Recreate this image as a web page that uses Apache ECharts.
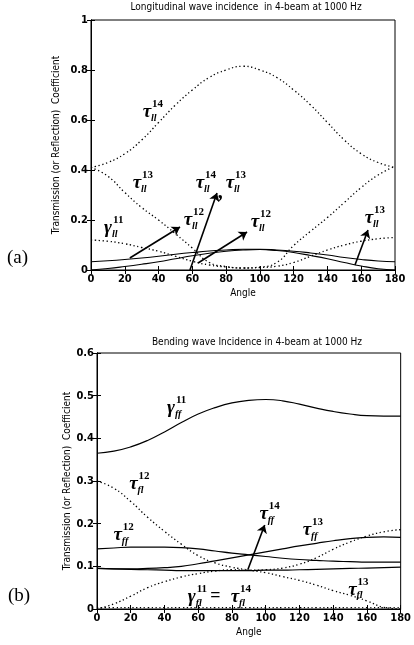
<!DOCTYPE html>
<html>
<head>
<meta charset="utf-8">
<script src="https://cdn.jsdelivr.net/npm/echarts@6/dist/echarts.min.js"></script>
<style>
  html, body { margin: 0; padding: 0; background: #fff; }
  #chart { width: 414px; height: 645px; }
</style>
</head>
<body>
<div id="chart"></div>
<script>
// angles shared by every curve (degrees)
const angles = [0, 10, 20, 30, 40, 50, 60, 70, 80, 90, 100, 110, 120, 130, 140, 150, 160, 170, 180];

// (a) longitudinal wave incidence
const tauLL14 = [0.41, 0.43, 0.465, 0.52, 0.59, 0.66, 0.72, 0.77, 0.80, 0.815, 0.80, 0.77, 0.72, 0.66, 0.59, 0.52, 0.465, 0.43, 0.41];
const tauLL13 = [0.41, 0.375, 0.31, 0.25, 0.2, 0.145, 0.088, 0.03, 0.014, 0.008, 0.01, 0.015, 0.03, 0.055, 0.08, 0.1, 0.115, 0.125, 0.13];
const tauLL12d = [0.12, 0.115, 0.105, 0.09, 0.075, 0.055, 0.035, 0.02, 0.012, 0.008, 0.012, 0.03, 0.098, 0.155, 0.21, 0.27, 0.33, 0.38, 0.415];
const gammaLL11 = [0.033, 0.037, 0.042, 0.048, 0.055, 0.063, 0.07, 0.076, 0.08, 0.083, 0.083, 0.08, 0.075, 0.068, 0.06, 0.05, 0.042, 0.036, 0.033];
const tauLL12s = [0, 0.006, 0.014, 0.023, 0.033, 0.045, 0.057, 0.067, 0.075, 0.08, 0.082, 0.078, 0.07, 0.058, 0.045, 0.03, 0.016, 0.005, 0];

// (b) bending wave incidence
const gammaFF11 = [0.365, 0.37, 0.38, 0.395, 0.415, 0.437, 0.457, 0.472, 0.483, 0.489, 0.491, 0.488, 0.48, 0.471, 0.463, 0.457, 0.453, 0.452, 0.452];
const tauFL12 = [0.30, 0.283, 0.252, 0.215, 0.182, 0.152, 0.125, 0.108, 0.098, 0.091, 0.085, 0.076, 0.067, 0.056, 0.043, 0.032, 0.019, 0.004, 0];
const tauFL13 = [0, 0.012, 0.03, 0.05, 0.064, 0.075, 0.083, 0.089, 0.092, 0.091, 0.092, 0.096, 0.105, 0.12, 0.14, 0.157, 0.171, 0.181, 0.186];
const tauFF12 = [0.141, 0.143, 0.145, 0.145, 0.145, 0.144, 0.141, 0.136, 0.131, 0.127, 0.123, 0.119, 0.116, 0.114, 0.112, 0.111, 0.11, 0.11, 0.11];
const tauFF13 = [0.095, 0.094, 0.094, 0.095, 0.097, 0.1, 0.106, 0.113, 0.12, 0.127, 0.134, 0.141, 0.148, 0.154, 0.16, 0.165, 0.168, 0.169, 0.168];
const tauFF14 = [0.095, 0.094, 0.093, 0.092, 0.091, 0.09, 0.09, 0.09, 0.09, 0.09, 0.091, 0.091, 0.092, 0.093, 0.094, 0.095, 0.096, 0.097, 0.098];
const gammaFL11 = [0.003, 0.003, 0.003, 0.003, 0.003, 0.003, 0.003, 0.003, 0.003, 0.003, 0.003, 0.003, 0.003, 0.003, 0.003, 0.003, 0.003, 0.003, 0.003];

// arrows [from, to] in data coords
const arrowsA = [
  [[23, 0.048], [52.7, 0.172]],
  [[58.6, 0.0], [74.6, 0.308]],
  [[63.4, 0.028], [92.4, 0.152]],
  [[156.3, 0.02], [164, 0.16]]
];
const arrowsB = [
  [[89.4, 0.092], [99.4, 0.197]]
];

// labels: [angle, value, main, sup, sub]
const labelsA = [
  [33.2, 0.632, 'τ', '14', 'll'],
  [27.2, 0.348, 'τ', '13', 'll'],
  [64.5, 0.348, 'τ', '14', 'll'],
  [82.3, 0.348, 'τ', '13', 'll'],
  [57.4, 0.20, 'τ', '12', 'll'],
  [10.1, 0.168, 'γ', '11', 'll'],
  [97.1, 0.192, 'τ', '12', 'll'],
  [164.6, 0.208, 'τ', '13', 'll']
];
const labelsB = [
  [43.8, 0.471, 'γ', '11', 'ff'],
  [21.6, 0.293, 'τ', '12', 'fl'],
  [12.3, 0.173, 'τ', '12', 'ff'],
  [98.8, 0.222, 'τ', '14', 'ff'],
  [124.5, 0.185, 'τ', '13', 'ff'],
  [151.4, 0.045, 'τ', '13', 'fl'],
  [56.1, 0.028, 'γ', '11', 'fl'],
  [81.8, 0.028, 'τ', '14', 'fl']
];

const yName = 'Transmission (or Reflection)  Coefficient';
const tickFont = '"DejaVu Sans Condensed", "Liberation Sans Narrow", sans-serif';
const pairs = vals => angles.map((a, i) => [a, vals[i]]);

function solid(g, vals) {
  return { type: 'line', xAxisIndex: g * 2, yAxisIndex: g * 2, data: pairs(vals), smooth: true, symbol: 'none',
    lineStyle: { color: '#000', width: 1.2 }, silent: true };
}
function dotted(g, vals) {
  return { type: 'line', xAxisIndex: g * 2, yAxisIndex: g * 2, data: pairs(vals), smooth: true, symbol: 'none',
    lineStyle: { color: '#000', width: 1.3, type: [1.3, 2.6] }, silent: true };
}

function xAxes(g) {
  const base = { type: 'value', gridIndex: g, min: 0, max: 180, interval: 20, splitLine: { show: false },
    axisLine: { lineStyle: { color: '#000', width: 1 } },
    axisTick: { inside: true, length: 4, lineStyle: { color: '#000' } } };
  return [
    Object.assign({}, base, { position: 'bottom', name: 'Angle', nameLocation: 'middle', nameGap: 18,
      nameTextStyle: { fontFamily: tickFont, fontSize: 10, color: '#000' },
      axisLabel: { fontFamily: tickFont, fontSize: 11, fontWeight: 'bold', color: '#000', margin: 4 } }),
    Object.assign({}, base, { position: 'top', axisLabel: { show: false } })
  ];
}
function yAxes(g, max, step) {
  const base = { type: 'value', gridIndex: g, min: 0, max: max, interval: step, splitLine: { show: false },
    axisLine: { lineStyle: { color: '#000', width: 1 } },
    axisTick: { inside: true, length: 4, lineStyle: { color: '#000' } } };
  return [
    Object.assign({}, base, { position: 'left',
      axisLabel: { fontFamily: tickFont, fontSize: 11, fontWeight: 'bold', color: '#000', margin: 3 } }),
    Object.assign({}, base, { position: 'right', axisLabel: { show: false } })
  ];
}

const chart = echarts.init(document.getElementById('chart'));
chart.setOption({
  animation: false,
  backgroundColor: '#fff',
  title: [
    { text: 'Longitudinal wave incidence  in 4-beam at 1000 Hz', left: 241, top: -3, textAlign: 'center',
      textStyle: { fontFamily: tickFont, fontSize: 10, fontWeight: 'normal', color: '#000' } },
    { text: 'Bending wave Incidence in 4-beam at 1000 Hz', left: 252, top: 332, textAlign: 'center',
      textStyle: { fontFamily: tickFont, fontSize: 10, fontWeight: 'normal', color: '#000' } }
  ],
  grid: [
    { left: 91, top: 20, width: 304, height: 250, show: true, borderColor: '#000', borderWidth: 1 },
    { left: 97, top: 353, width: 308, height: 256, show: true, borderColor: '#000', borderWidth: 1 }
  ],
  xAxis: [...xAxes(0), ...xAxes(1)],
  yAxis: [...yAxes(0, 1, 0.2), ...yAxes(1, 0.6, 0.1)],
  series: [
    dotted(0, tauLL14), dotted(0, tauLL13), dotted(0, tauLL12d),
    solid(0, gammaLL11), solid(0, tauLL12s),
    solid(1, gammaFF11), dotted(1, tauFL12), dotted(1, tauFL13),
    solid(1, tauFF12), solid(1, tauFF13), solid(1, tauFF14), dotted(1, gammaFL11),
    { type: 'lines', coordinateSystem: 'cartesian2d', xAxisIndex: 0, yAxisIndex: 0, symbol: ['none', 'arrow'], symbolSize: 8,
      lineStyle: { color: '#000', width: 1.6, opacity: 1 }, data: arrowsA.map(c => ({ coords: c })), silent: true },
    { type: 'lines', coordinateSystem: 'cartesian2d', xAxisIndex: 2, yAxisIndex: 2, symbol: ['none', 'arrow'], symbolSize: 8,
      lineStyle: { color: '#000', width: 1.6, opacity: 1 }, data: arrowsB.map(c => ({ coords: c })), silent: true }
  ]
});

const serif = '"Liberation Serif", "DejaVu Serif", serif';
function mathLabel(g, l) {
  const p = chart.convertToPixel({ xAxisIndex: g * 2, yAxisIndex: g * 2 }, [l[0], l[1]]);
  return { type: 'group', x: p[0], y: p[1], silent: true, children: [
    { type: 'text', style: { text: l[2], font: 'italic bold 19px ' + serif, fill: '#000', align: 'center', verticalAlign: 'middle' } },
    { type: 'text', x: 5, y: -8, style: { text: l[3], font: 'bold 11px ' + serif, fill: '#000', align: 'left', verticalAlign: 'middle' } },
    { type: 'text', x: 4, y: 6, style: { text: l[4], font: 'italic bold 10px ' + serif, fill: '#000', align: 'left', verticalAlign: 'middle' } }
  ] };
}
function plainLabel(g, x, y, txt, size) {
  const p = chart.convertToPixel({ xAxisIndex: g * 2, yAxisIndex: g * 2 }, [x, y]);
  return { type: 'text', x: p[0], y: p[1], silent: true,
    style: { text: txt, font: 'bold ' + size + 'px ' + serif, fill: '#000', align: 'center', verticalAlign: 'middle' } };
}
function axisName(x, y) {
  return { type: 'text', x: x, y: y, rotation: Math.PI / 2, silent: true,
    style: { text: yName, font: '10px ' + tickFont, fill: '#000', align: 'center', verticalAlign: 'middle' } };
}

chart.setOption({
  graphic: [
    ...labelsA.map(l => mathLabel(0, l)),
    ...labelsB.map(l => mathLabel(1, l)),
    plainLabel(0, 76.5, 0.31, ',', 20),
    plainLabel(1, 70.1, 0.03, '=', 18),
    axisName(56, 145),
    axisName(67, 481),
    { type: 'text', x: 7, y: 258, style: { text: '(a)', font: '19px ' + serif, fill: '#000', verticalAlign: 'middle' } },
    { type: 'text', x: 8, y: 596, style: { text: '(b)', font: '19px ' + serif, fill: '#000', verticalAlign: 'middle' } }
  ]
});
</script>
</body>
</html>
